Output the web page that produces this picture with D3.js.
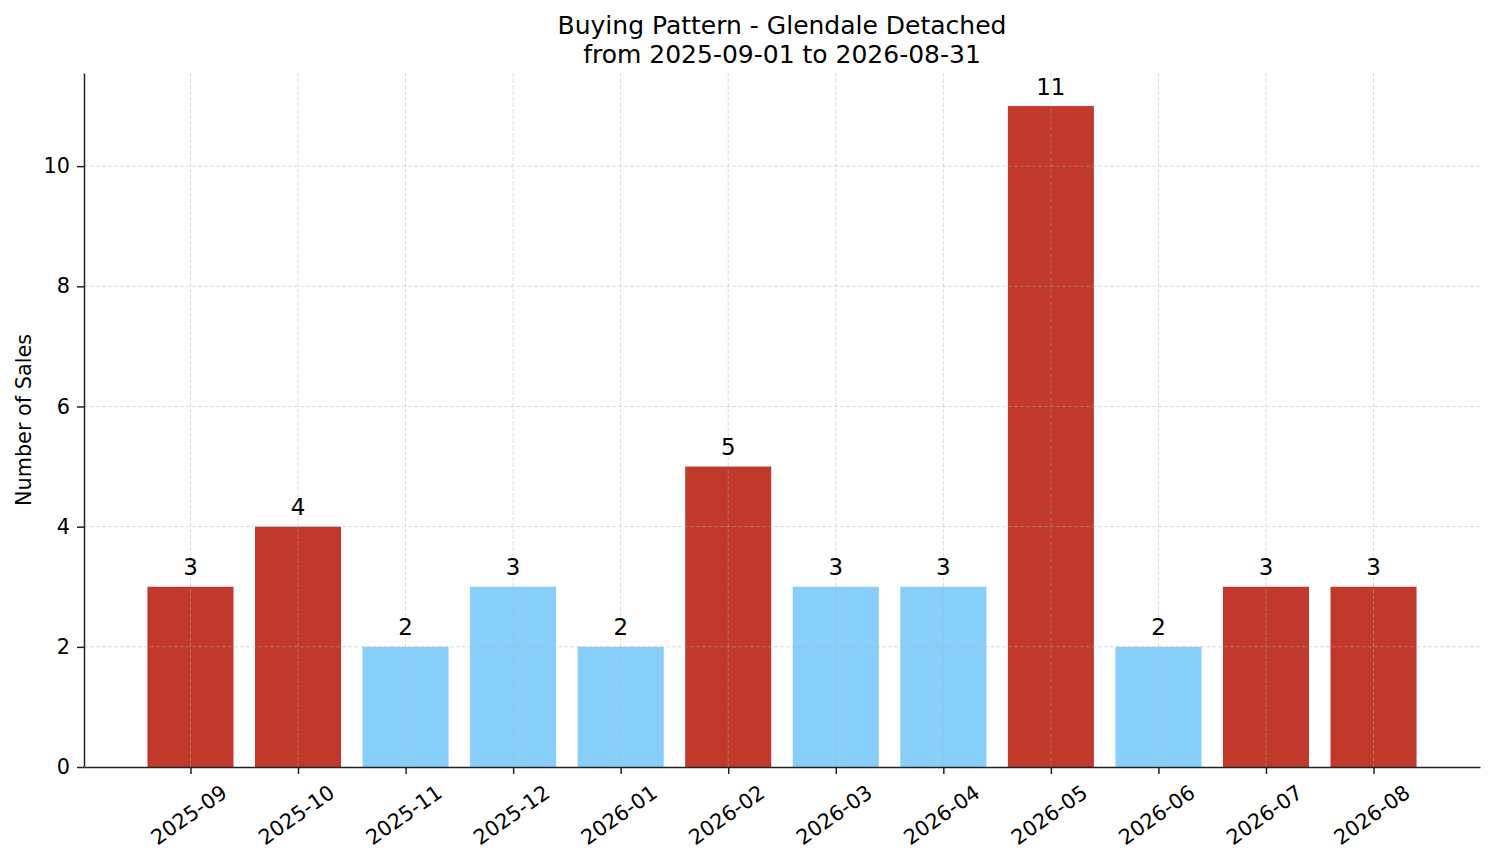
<!DOCTYPE html>
<html>
<head>
<meta charset="utf-8">
<script src="https://cdn.jsdelivr.net/npm/d3@7"></script>
<style>
  body { margin: 0; background: #fff; }
  text { font-family: "DejaVu Sans", sans-serif; fill: #000; }
</style>
</head>
<body>
<div id="chart"></div>
<script>
// Monthly sales counts
const months = ["2025-09", "2025-10", "2025-11", "2025-12", "2026-01", "2026-02",
                "2026-03", "2026-04", "2026-05", "2026-06", "2026-07", "2026-08"];
const sales = [3, 4, 2, 3, 2, 5, 3, 3, 11, 2, 3, 3];
const barColors = ["#c0392b", "#c0392b", "#87cefa", "#87cefa", "#87cefa", "#c0392b",
                   "#87cefa", "#87cefa", "#c0392b", "#87cefa", "#c0392b", "#c0392b"];
const yTicks = [0, 2, 4, 6, 8, 10];

const width = 1494;
const height = 863;
const margin = { top: 73, right: 14, bottom: 96, left: 84 };

const svg = d3.select("#chart")
  .append("svg")
  .attr("width", width)
  .attr("height", height);

// matplotlib style x range: bars of width 0.8, 5% margins
const x = d3.scaleLinear()
  .domain([-0.99, months.length - 1 + 0.99])
  .range([margin.left, width - margin.right]);

const y = d3.scaleLinear()
  .domain([0, d3.max(sales) * 1.05])
  .range([height - margin.bottom, margin.top]);

const barW = x(0.8) - x(0);

// bars
svg.selectAll("rect.bar")
  .data(sales)
  .enter()
  .append("rect")
  .attr("class", "bar")
  .attr("x", (d, i) => x(i) - barW / 2)
  .attr("y", (d) => y(d))
  .attr("width", barW)
  .attr("height", (d) => y(0) - y(d))
  .attr("fill", (d, i) => barColors[i]);

// grid on top of bars
const grid = svg.append("g")
  .attr("stroke", "#b0b0b0")
  .attr("stroke-opacity", 0.55)
  .attr("stroke-width", 0.8)
  .attr("stroke-dasharray", "4,2");

grid.selectAll("line.vgrid")
  .data(months)
  .enter()
  .append("line")
  .attr("x1", (d, i) => x(i))
  .attr("x2", (d, i) => x(i))
  .attr("y1", y.range()[0])
  .attr("y2", y.range()[1]);

grid.selectAll("line.hgrid")
  .data(yTicks.filter((t) => t > 0))
  .enter()
  .append("line")
  .attr("x1", margin.left)
  .attr("x2", width - margin.right)
  .attr("y1", (d) => y(d))
  .attr("y2", (d) => y(d));

// y axis
const yAxis = svg.append("g")
  .attr("transform", `translate(${margin.left},0)`)
  .call(d3.axisLeft(y).tickValues(yTicks).tickSize(7).tickPadding(7).tickSizeOuter(0));
yAxis.select(".domain").attr("stroke", "#222").attr("stroke-width", 1.5);
yAxis.selectAll(".tick line").attr("stroke", "#222").attr("stroke-width", 1.5);
yAxis.selectAll(".tick text")
  .style("font-family", "DejaVu Sans")
  .style("font-size", "20.8px")
  .attr("fill", "#000");

// x axis
const xAxis = svg.append("g")
  .attr("transform", `translate(0,${y(0)})`)
  .call(d3.axisBottom(x).tickValues(d3.range(months.length)).tickFormat((i) => months[i])
    .tickSize(7).tickSizeOuter(0));
xAxis.select(".domain").attr("stroke", "#222").attr("stroke-width", 1.5);
xAxis.selectAll(".tick line").attr("stroke", "#222").attr("stroke-width", 1.5);
xAxis.selectAll(".tick text")
  .style("font-family", "DejaVu Sans")
  .style("font-size", "20.8px")
  .attr("fill", "#000")
  .attr("y", 0)
  .attr("dy", 0)
  .attr("text-anchor", "middle")
  .attr("dominant-baseline", "central")
  .attr("transform", "translate(-2,48) rotate(-35)");

// value labels
svg.selectAll("text.val")
  .data(sales)
  .enter()
  .append("text")
  .attr("class", "val")
  .attr("x", (d, i) => x(i))
  .attr("y", (d) => y(d) - 11.5)
  .attr("text-anchor", "middle")
  .style("font-size", "22.9px")
  .text((d) => d);

// y label
svg.append("text")
  .attr("transform", `translate(31,${(y.range()[0] + y.range()[1]) / 2}) rotate(-90)`)
  .attr("text-anchor", "middle")
  .style("font-size", "20.8px")
  .text("Number of Sales");

// title
const cx = (margin.left + width - margin.right) / 2;
svg.append("text")
  .attr("x", cx).attr("y", 34)
  .attr("text-anchor", "middle")
  .style("font-size", "25px")
  .text("Buying Pattern - Glendale Detached");
svg.append("text")
  .attr("x", cx).attr("y", 63)
  .attr("text-anchor", "middle")
  .style("font-size", "25px")
  .text("from 2025-09-01 to 2026-08-31");
</script>
</body>
</html>
